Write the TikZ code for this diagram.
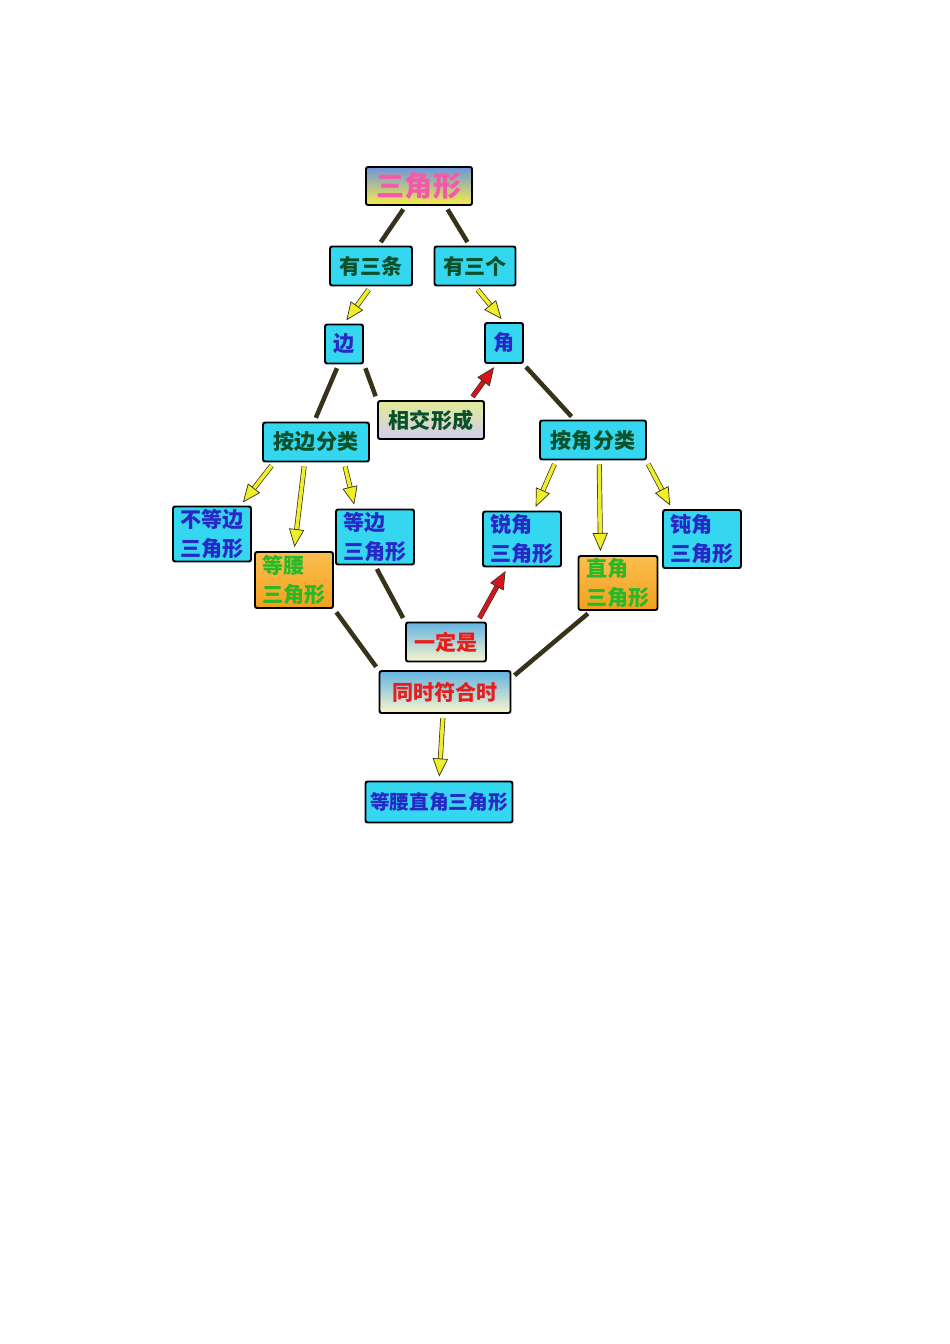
\documentclass[tikz,border=0pt]{standalone}
\usepackage{fontspec}
\usepackage{tikz}
\usetikzlibrary{arrows.meta}
\newfontfamily\cjk{Noto Sans CJK SC}

\definecolor{boxcyan}{RGB}{52,214,240}
\definecolor{linedark}{RGB}{55,50,25}
\definecolor{arrowyellow}{RGB}{240,238,40}
\definecolor{arrowred}{RGB}{215,20,30}
\definecolor{txtgreen}{RGB}{10,80,40}
\definecolor{txtblue}{RGB}{40,40,200}
\definecolor{txtlime}{RGB}{40,185,40}
\definecolor{txtred}{RGB}{230,30,30}
\definecolor{txtpink}{RGB}{245,90,170}

\tikzset{
	cbox/.style={draw=black, line width=1.4pt, rounded corners=1.5pt, inner sep=0pt,
		font=\cjk\bfseries\fontsize{15}{20}\selectfont},
	cyanbox/.style={cbox, fill=boxcyan},
	orangebox/.style={cbox, top color={rgb,255:red,250;green,190;blue,80}, middle color=white,
		bottom color={rgb,255:red,245;green,160;blue,30}, text=txtlime, align=left},
	skybox/.style={cbox, top color={rgb,255:red,100;green,180;blue,225},
		bottom color={rgb,255:red,250;green,245;blue,205}, text=txtred},
	twoline/.style={cyanbox, text=txtblue, align=left, minimum width=19.5mm, minimum height=13.75mm},
	link/.style={draw=linedark, line width=3.2pt, shorten <=1mm, shorten >=1mm},
	yarrow/.style={draw=arrowyellow, line width=2.6pt, shorten <=1mm, shorten >=1mm,
		-{Triangle[length=4.5mm,width=3.8mm,fill=arrowyellow,color=linedark,line width=0.5pt]},
		preaction={draw=linedark, line width=3.6pt, -, shorten >=4mm}},
	rarrow/.style={yarrow, draw=arrowred,
		-{Triangle[length=4.5mm,width=3.8mm,fill=arrowred,color=linedark,line width=0.5pt]}}
}

\begin{document}
\begin{tikzpicture}[x=0.25mm, y=-0.25mm]
	\useasboundingbox (0,0) rectangle (950,1344);

	% top
	\node[cbox, top color={rgb,255:red,110;green,150;blue,220}, middle color={rgb,255:red,235;green,200;blue,210},
		bottom color={rgb,255:red,250;green,235;blue,70}, text=txtpink, font=\cjk\bfseries\fontsize{20}{24}\selectfont,
		minimum width=26.5mm, minimum height=9.5mm] (tri) at (419,186) {三角形};
	\node[cyanbox, text=txtgreen, minimum width=20.5mm, minimum height=9.75mm] (sides3) at (371,266) {有三条};
	\node[cyanbox, text=txtgreen, minimum width=20.25mm, minimum height=9.75mm] (angles3) at (475,266) {有三个};
	\node[cyanbox, text=txtblue, minimum width=9.5mm, minimum height=9.75mm] (side) at (344,344) {边};
	\node[cyanbox, text=txtblue, minimum width=9.5mm, minimum height=10mm] (angle) at (504,343) {角};
	\node[cbox, top color={rgb,255:red,225;green,235;blue,150}, middle color={rgb,255:red,255;green,228;blue,232},
		bottom color={rgb,255:red,210;green,205;blue,240}, text=txtgreen,
		minimum width=26.5mm, minimum height=9.5mm] (meet) at (431,420) {相交形成};

	% classification
	\node[cyanbox, text=txtgreen, minimum width=26.5mm, minimum height=9.75mm] (bysides) at (316,442) {按边分类};
	\node[cyanbox, text=txtgreen, minimum width=26.5mm, minimum height=9.75mm] (byangles) at (593,440) {按角分类};

	\node[twoline] (scalene) at (212,534) {不等边\\三角形};
	\node[orangebox, minimum width=19.5mm, minimum height=14mm] (isosceles) at (294,580) {等腰\\三角形};
	\node[twoline] (equilateral) at (375,537) {等边\\三角形};
	\node[twoline] (acute) at (522,539) {锐角\\三角形};
	\node[orangebox, minimum width=19.75mm, minimum height=13.5mm] (right) at (618,583) {直角\\三角形};
	\node[twoline, minimum height=14.5mm] (obtuse) at (702,539) {钝角\\三角形};

	% bottom
	\node[skybox, minimum width=20mm, minimum height=9.75mm] (always) at (446,642) {一定是};
	\node[skybox, minimum width=32.75mm, minimum height=10.5mm] (both) at (445,692) {同时符合时};
	\node[cyanbox, text=txtblue, font=\cjk\bfseries\fontsize{14}{18}\selectfont,
		minimum width=36.75mm, minimum height=10.25mm] (isoright) at (439,802) {等腰直角三角形};

	% connectors
	\draw[link] (tri.-124) -- (sides3.70);
	\draw[link] (tri.-37) -- (angles3.105);
	\draw[yarrow] (sides3.south) -- (side.north);
	\draw[yarrow] (angles3.south) -- (angle.north);
	\draw[link] (side.-105) -- (bysides.95);
	\draw[link] (side.south east) -- (meet.north west);
	\draw[rarrow] (meet.27) -- (angle.250);
	\draw[link] (angle) -- (byangles);

	\draw[yarrow] (bysides.-154) -- (scalene.45);
	\draw[yarrow] (bysides.-119) -- (isosceles.north);
	\draw[yarrow] (bysides.-36) -- (equilateral.125);
	\draw[yarrow] (byangles.-151) -- (acute.67);
	\draw[yarrow] (byangles.-73) -- (right.122);
	\draw[yarrow] (byangles.-21) -- (obtuse.135);

	\draw[link] (equilateral.south) -- (always.north west);
	\draw[rarrow] (always.33) -- (acute.-117);
	\draw[link] (isosceles.south east) -- (both.north west);
	\draw[link] (right.-134) -- (both.12);
	\draw[yarrow] (both.-95) -- (isoright.north);
\end{tikzpicture}
\end{document}
